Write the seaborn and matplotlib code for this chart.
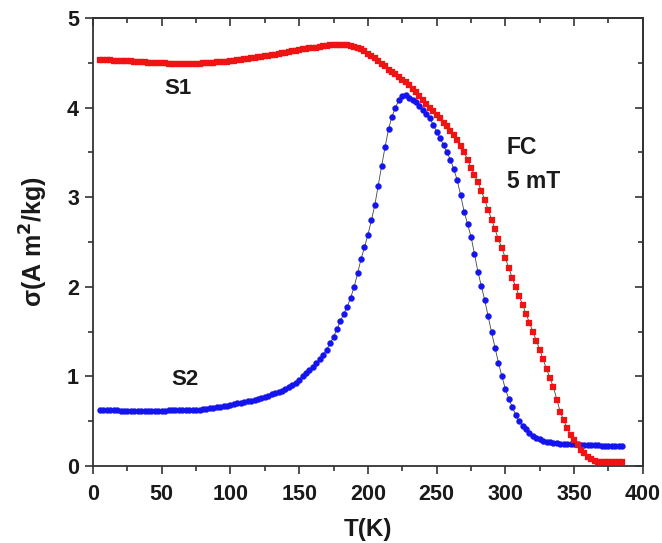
import numpy as np
import pandas as pd
import matplotlib
matplotlib.use("Agg")
import matplotlib.pyplot as plt
from matplotlib.ticker import MultipleLocator
import seaborn as sns

# sicaklik (K), 2.5 K adim
temp = np.arange(5, 387.5, 2.5)

# S1 orneginin FC egrisi
s1 = [4.53, 4.53, 4.53, 4.53, 4.52, 4.52, 4.52, 4.52, 4.52, 4.52,
      4.51, 4.51, 4.51, 4.51, 4.50, 4.50, 4.50, 4.50, 4.50, 4.50,
      4.49, 4.49, 4.49, 4.49, 4.49, 4.49, 4.49, 4.49, 4.49, 4.49,
      4.50, 4.50, 4.50, 4.50, 4.51, 4.51, 4.51, 4.51, 4.52, 4.52,
      4.53, 4.53, 4.54, 4.54, 4.55, 4.55, 4.56, 4.57, 4.58, 4.58,
      4.59, 4.59, 4.60, 4.61, 4.61, 4.62, 4.63, 4.63, 4.64, 4.65,
      4.65, 4.66, 4.67, 4.67, 4.68, 4.69, 4.69, 4.70, 4.70, 4.70,
      4.70, 4.70, 4.70, 4.69, 4.68, 4.67, 4.65, 4.63, 4.60, 4.58,
      4.55, 4.52, 4.49, 4.46, 4.42, 4.40, 4.37, 4.34, 4.31, 4.28,
      4.25, 4.21, 4.17, 4.13, 4.08, 4.04, 3.99, 3.96, 3.92, 3.88,
      3.83, 3.79, 3.74, 3.69, 3.64, 3.57, 3.50, 3.42, 3.33, 3.25,
      3.17, 3.07, 2.97, 2.86, 2.75, 2.64, 2.53, 2.43, 2.32, 2.21,
      2.10, 2.00, 1.90, 1.80, 1.70, 1.60, 1.50, 1.40, 1.30, 1.19,
      1.08, 0.98, 0.88, 0.74, 0.60, 0.51, 0.42, 0.35, 0.29, 0.23,
      0.18, 0.14, 0.10, 0.08, 0.06, 0.05, 0.04, 0.04, 0.04, 0.04,
      0.04, 0.04, 0.04]

# S2 orneginin FC egrisi
s2 = [0.62, 0.62, 0.62, 0.62, 0.62, 0.62, 0.61, 0.61, 0.61, 0.61,
      0.61, 0.61, 0.61, 0.61, 0.61, 0.61, 0.61, 0.61, 0.61, 0.61,
      0.62, 0.62, 0.62, 0.62, 0.62, 0.62, 0.63, 0.63, 0.63, 0.63,
      0.64, 0.64, 0.65, 0.65, 0.66, 0.66, 0.67, 0.67, 0.68, 0.69,
      0.70, 0.70, 0.71, 0.72, 0.73, 0.74, 0.75, 0.76, 0.77, 0.78,
      0.80, 0.81, 0.83, 0.84, 0.86, 0.88, 0.90, 0.93, 0.96, 1.00,
      1.04, 1.07, 1.11, 1.15, 1.19, 1.24, 1.30, 1.37, 1.44, 1.53,
      1.62, 1.70, 1.78, 1.88, 2.00, 2.15, 2.31, 2.44, 2.58, 2.74,
      2.91, 3.13, 3.35, 3.56, 3.76, 3.90, 4.00, 4.08, 4.13, 4.14,
      4.11, 4.09, 4.06, 4.02, 3.97, 3.93, 3.88, 3.81, 3.73, 3.66,
      3.58, 3.50, 3.42, 3.31, 3.19, 3.02, 2.84, 2.70, 2.56, 2.37,
      2.17, 2.01, 1.85, 1.67, 1.49, 1.32, 1.15, 1.00, 0.86, 0.75,
      0.66, 0.57, 0.50, 0.45, 0.41, 0.37, 0.33, 0.31, 0.30, 0.28,
      0.27, 0.265, 0.26, 0.255, 0.25, 0.25, 0.245, 0.245, 0.24, 0.24,
      0.235, 0.235, 0.23, 0.23, 0.23, 0.23, 0.225, 0.225, 0.225, 0.225,
      0.22, 0.22, 0.22]

df = pd.DataFrame({"T": temp, "S1": s1, "S2": s2})

sns.set_style("ticks")
plt.rcParams["font.family"] = ["Liberation Sans", "DejaVu Sans"]
plt.rcParams["font.weight"] = "bold"
plt.rcParams["mathtext.default"] = "bf"

fig = plt.figure(figsize=(6.62, 5.43), dpi=100)
ax = fig.add_axes([0.1405, 0.1418, 0.8305, 0.8251])

# ince baglanti cizgileri
sns.lineplot(x="T", y="S2", data=df, color="#3a4a3a", lw=0.6, ax=ax)
sns.lineplot(x="T", y="S1", data=df, color="#3a4a3a", lw=0.6, ax=ax)
# noktalar
sns.scatterplot(x="T", y="S2", data=df, marker="o", s=19, color="#1414ee",
                edgecolor="#1414ee", linewidth=0.2, ax=ax, zorder=3)
sns.scatterplot(x="T", y="S1", data=df, marker="s", s=16, color="#ee1414",
                edgecolor="#ee1414", linewidth=0.2, ax=ax, zorder=4)

ax.set_xlim(0, 400)
ax.set_ylim(0, 5)
ax.xaxis.set_major_locator(MultipleLocator(50))
ax.xaxis.set_minor_locator(MultipleLocator(25))
ax.yaxis.set_major_locator(MultipleLocator(1))
ax.yaxis.set_minor_locator(MultipleLocator(0.5))
ax.tick_params(which="both", direction="out", width=1.2, color="#333333",
               labelsize=15.5, labelcolor="#1a1a1a", pad=4)
ax.tick_params(axis="x", which="major", pad=7)
ax.tick_params(which="major", length=6)
ax.tick_params(which="minor", length=3.5)
for sp in ax.spines.values():
    sp.set_visible(True)
    sp.set_linewidth(1.3)
    sp.set_color("#333333")

# ust ve sag eksende ice bakan tikler
top = ax.secondary_xaxis("top")
top.xaxis.set_major_locator(MultipleLocator(50))
top.xaxis.set_minor_locator(MultipleLocator(25))
top.tick_params(which="both", direction="in", width=1.2, color="#333333",
                labeltop=False)
top.tick_params(which="major", length=6)
top.tick_params(which="minor", length=3.5)
right = ax.secondary_yaxis("right")
right.yaxis.set_major_locator(MultipleLocator(1))
right.yaxis.set_minor_locator(MultipleLocator(0.5))
right.tick_params(which="both", direction="in", width=1.2, color="#333333",
                  labelright=False)
right.tick_params(which="major", length=6)
right.tick_params(which="minor", length=3.5)
for s in (top, right):
    for sp in s.spines.values():
        sp.set_linewidth(1.3)
        sp.set_color("#333333")

ax.set_xlabel("T(K)", fontsize=17.5, fontweight="bold", labelpad=9,
              color="#1a1a1a")
ax.set_ylabel(r"σ(A m$^2$/kg)", fontsize=18, fontweight="bold",
              labelpad=12, color="#1a1a1a")

ax.text(62, 4.21, "S1", fontsize=16, fontweight="bold", ha="center",
        va="center", color="#1a1a1a")
ax.text(67, 0.96, "S2", fontsize=16, fontweight="bold", ha="center",
        va="center", color="#1a1a1a")
ax.text(301, 3.55, "FC", fontsize=16.5, fontweight="bold", ha="left",
        va="center", color="#1a1a1a")
ax.text(301, 3.18, "5 mT", fontsize=16.5, fontweight="bold", ha="left",
        va="center", color="#1a1a1a")

fig.savefig("out.png", dpi=100)
